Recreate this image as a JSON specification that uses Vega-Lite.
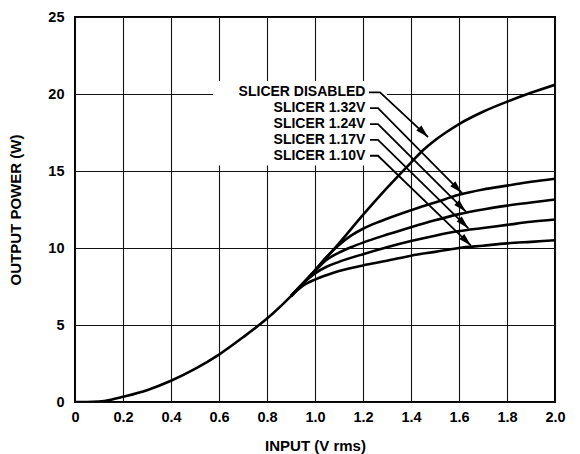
{
  "$schema": "https://vega.github.io/schema/vega-lite/v6.json",
  "width": 480,
  "height": 385,
  "autosize": "none",
  "padding": {"left": 75, "top": 17, "right": 25, "bottom": 52},
  "background": "white",
  "config": {
    "view": {"stroke": "#000", "strokeWidth": 2},
    "font": "Liberation Sans",
    "axis": {
      "labelFont": "Liberation Sans",
      "labelFontWeight": "bold",
      "labelFontSize": 14.5,
      "labelColor": "#000",
      "titleFont": "Liberation Sans",
      "titleFontWeight": "bold",
      "titleFontSize": 15,
      "titleColor": "#000",
      "domain": false,
      "ticks": false,
      "grid": true,
      "gridColor": "#111",
      "gridWidth": 1.1,
      "gridOpacity": 1
    }
  },
  "datasets": {
    "curves": [
      {"series": "SLICER DISABLED", "v": 0, "w": 0},
      {"series": "SLICER DISABLED", "v": 0.05, "w": 0},
      {"series": "SLICER DISABLED", "v": 0.1, "w": 0.03},
      {"series": "SLICER DISABLED", "v": 0.15, "w": 0.15},
      {"series": "SLICER DISABLED", "v": 0.2, "w": 0.34},
      {"series": "SLICER DISABLED", "v": 0.3, "w": 0.77},
      {"series": "SLICER DISABLED", "v": 0.4, "w": 1.38},
      {"series": "SLICER DISABLED", "v": 0.5, "w": 2.15},
      {"series": "SLICER DISABLED", "v": 0.6, "w": 3.08},
      {"series": "SLICER DISABLED", "v": 0.7, "w": 4.2},
      {"series": "SLICER DISABLED", "v": 0.8, "w": 5.42},
      {"series": "SLICER DISABLED", "v": 0.9, "w": 6.88},
      {"series": "SLICER DISABLED", "v": 1.0, "w": 8.55},
      {"series": "SLICER DISABLED", "v": 1.1, "w": 10.3},
      {"series": "SLICER DISABLED", "v": 1.2, "w": 12.15},
      {"series": "SLICER DISABLED", "v": 1.3, "w": 13.9},
      {"series": "SLICER DISABLED", "v": 1.4, "w": 15.55},
      {"series": "SLICER DISABLED", "v": 1.45, "w": 16.35},
      {"series": "SLICER DISABLED", "v": 1.5, "w": 17.0},
      {"series": "SLICER DISABLED", "v": 1.55, "w": 17.55},
      {"series": "SLICER DISABLED", "v": 1.6, "w": 18.05},
      {"series": "SLICER DISABLED", "v": 1.7, "w": 18.85},
      {"series": "SLICER DISABLED", "v": 1.8, "w": 19.5},
      {"series": "SLICER DISABLED", "v": 1.9, "w": 20.08},
      {"series": "SLICER DISABLED", "v": 2.0, "w": 20.6},

      {"series": "SLICER 1.32V", "v": 0.9, "w": 6.88},
      {"series": "SLICER 1.32V", "v": 1.0, "w": 8.55},
      {"series": "SLICER 1.32V", "v": 1.05, "w": 9.45},
      {"series": "SLICER 1.32V", "v": 1.1, "w": 10.2},
      {"series": "SLICER 1.32V", "v": 1.15, "w": 10.8},
      {"series": "SLICER 1.32V", "v": 1.2, "w": 11.25},
      {"series": "SLICER 1.32V", "v": 1.25, "w": 11.6},
      {"series": "SLICER 1.32V", "v": 1.3, "w": 11.9},
      {"series": "SLICER 1.32V", "v": 1.4, "w": 12.45},
      {"series": "SLICER 1.32V", "v": 1.5, "w": 12.95},
      {"series": "SLICER 1.32V", "v": 1.6, "w": 13.45},
      {"series": "SLICER 1.32V", "v": 1.7, "w": 13.8},
      {"series": "SLICER 1.32V", "v": 1.8, "w": 14.05},
      {"series": "SLICER 1.32V", "v": 1.9, "w": 14.3},
      {"series": "SLICER 1.32V", "v": 2.0, "w": 14.5},

      {"series": "SLICER 1.24V", "v": 0.9, "w": 6.88},
      {"series": "SLICER 1.24V", "v": 1.0, "w": 8.5},
      {"series": "SLICER 1.24V", "v": 1.05, "w": 9.25},
      {"series": "SLICER 1.24V", "v": 1.1, "w": 9.7},
      {"series": "SLICER 1.24V", "v": 1.15, "w": 10.05},
      {"series": "SLICER 1.24V", "v": 1.2, "w": 10.35},
      {"series": "SLICER 1.24V", "v": 1.3, "w": 10.87},
      {"series": "SLICER 1.24V", "v": 1.4, "w": 11.35},
      {"series": "SLICER 1.24V", "v": 1.5, "w": 11.8},
      {"series": "SLICER 1.24V", "v": 1.6, "w": 12.2},
      {"series": "SLICER 1.24V", "v": 1.7, "w": 12.5},
      {"series": "SLICER 1.24V", "v": 1.8, "w": 12.75},
      {"series": "SLICER 1.24V", "v": 1.9, "w": 12.95},
      {"series": "SLICER 1.24V", "v": 2.0, "w": 13.15},

      {"series": "SLICER 1.17V", "v": 0.9, "w": 6.88},
      {"series": "SLICER 1.17V", "v": 0.95, "w": 7.7},
      {"series": "SLICER 1.17V", "v": 1.0, "w": 8.35},
      {"series": "SLICER 1.17V", "v": 1.05, "w": 8.8},
      {"series": "SLICER 1.17V", "v": 1.1, "w": 9.1},
      {"series": "SLICER 1.17V", "v": 1.2, "w": 9.6},
      {"series": "SLICER 1.17V", "v": 1.3, "w": 10.05},
      {"series": "SLICER 1.17V", "v": 1.4, "w": 10.45},
      {"series": "SLICER 1.17V", "v": 1.5, "w": 10.8},
      {"series": "SLICER 1.17V", "v": 1.6, "w": 11.1},
      {"series": "SLICER 1.17V", "v": 1.7, "w": 11.3},
      {"series": "SLICER 1.17V", "v": 1.8, "w": 11.5},
      {"series": "SLICER 1.17V", "v": 1.9, "w": 11.7},
      {"series": "SLICER 1.17V", "v": 2.0, "w": 11.85},

      {"series": "SLICER 1.10V", "v": 0.9, "w": 6.88},
      {"series": "SLICER 1.10V", "v": 0.95, "w": 7.55},
      {"series": "SLICER 1.10V", "v": 1.0, "w": 7.95},
      {"series": "SLICER 1.10V", "v": 1.05, "w": 8.25},
      {"series": "SLICER 1.10V", "v": 1.1, "w": 8.5},
      {"series": "SLICER 1.10V", "v": 1.2, "w": 8.87},
      {"series": "SLICER 1.10V", "v": 1.3, "w": 9.17},
      {"series": "SLICER 1.10V", "v": 1.4, "w": 9.5},
      {"series": "SLICER 1.10V", "v": 1.5, "w": 9.75},
      {"series": "SLICER 1.10V", "v": 1.6, "w": 10.0},
      {"series": "SLICER 1.10V", "v": 1.7, "w": 10.15},
      {"series": "SLICER 1.10V", "v": 1.8, "w": 10.3},
      {"series": "SLICER 1.10V", "v": 1.9, "w": 10.4},
      {"series": "SLICER 1.10V", "v": 2.0, "w": 10.5}
    ],
    "leaders": [
      {"label": "SLICER DISABLED", "k": 0, "v": 1.225, "w": 20.11},
      {"label": "SLICER DISABLED", "k": 1, "v": 1.271, "w": 20.11},
      {"label": "SLICER DISABLED", "k": 2, "v": 1.471, "w": 17.2},
      {"label": "SLICER 1.32V", "k": 0, "v": 1.229, "w": 19.08},
      {"label": "SLICER 1.32V", "k": 1, "v": 1.2625, "w": 19.08},
      {"label": "SLICER 1.32V", "k": 2, "v": 1.6125, "w": 13.57},
      {"label": "SLICER 1.24V", "k": 0, "v": 1.229, "w": 18.05},
      {"label": "SLICER 1.24V", "k": 1, "v": 1.2625, "w": 18.05},
      {"label": "SLICER 1.24V", "k": 2, "v": 1.629, "w": 12.36},
      {"label": "SLICER 1.17V", "k": 0, "v": 1.229, "w": 17.02},
      {"label": "SLICER 1.17V", "k": 1, "v": 1.2625, "w": 17.02},
      {"label": "SLICER 1.17V", "k": 2, "v": 1.639, "w": 11.28},
      {"label": "SLICER 1.10V", "k": 0, "v": 1.229, "w": 15.99},
      {"label": "SLICER 1.10V", "k": 1, "v": 1.2625, "w": 15.99},
      {"label": "SLICER 1.10V", "k": 2, "v": 1.65, "w": 10.15}
    ],
    "labels": [
      {"label": "SLICER DISABLED", "v": 1.21, "w": 20.11},
      {"label": "SLICER 1.32V", "v": 1.21, "w": 19.08},
      {"label": "SLICER 1.24V", "v": 1.21, "w": 18.05},
      {"label": "SLICER 1.17V", "v": 1.21, "w": 17.02},
      {"label": "SLICER 1.10V", "v": 1.21, "w": 15.99}
    ],
    "box": [
      {"v1": 0.575, "v2": 1.30, "w1": 15.35, "w2": 20.85}
    ]
  },
  "encoding": {
    "x": {
      "field": "v", "type": "quantitative",
      "scale": {"domain": [0, 2], "nice": false, "zero": false},
      "axis": {
        "title": "INPUT (V rms)",
        "values": [0, 0.2, 0.4, 0.6, 0.8, 1.0, 1.2, 1.4, 1.6, 1.8, 2.0],
        "labelExpr": "datum.value == 0 ? '0' : format(datum.value, '.1f')",
        "labelPadding": 8,
        "labelFlush": false,
        "titlePadding": 15
      }
    },
    "y": {
      "field": "w", "type": "quantitative",
      "scale": {"domain": [0, 25], "nice": false},
      "axis": {
        "title": "OUTPUT POWER (W)",
        "values": [0, 5, 10, 15, 20, 25],
        "labelPadding": 11,
        "labelFlush": false,
        "titlePadding": 24
      }
    }
  },
  "layer": [
    {
      "data": {"name": "box"},
      "mark": {"type": "rect", "fill": "white", "stroke": null},
      "encoding": {
        "x": {"field": "v1", "type": "quantitative"},
        "x2": {"field": "v2"},
        "y": {"field": "w1", "type": "quantitative"},
        "y2": {"field": "w2"}
      }
    },
    {
      "data": {"name": "curves"},
      "mark": {"type": "line", "color": "#000", "strokeWidth": 2.6, "interpolate": "monotone", "clip": true},
      "encoding": {
        "detail": {"field": "series"},
        "order": {"field": "v", "type": "quantitative"}
      }
    },
    {
      "data": {"name": "leaders"},
      "mark": {"type": "line", "color": "#000", "strokeWidth": 1.8},
      "encoding": {
        "detail": {"field": "label"},
        "order": {"field": "k", "type": "quantitative"}
      }
    },
    {
      "data": {"name": "leaders"},
      "transform": [{"filter": "datum.k == 2"}],
      "mark": {"type": "point", "shape": "M0,0L-0.55,2L0.55,2Z", "filled": true, "color": "#000", "opacity": 1, "size": 169, "angle": 135, "strokeWidth": 0}
    },
    {
      "data": {"name": "labels"},
      "mark": {"type": "text", "align": "right", "baseline": "middle", "font": "Liberation Sans", "fontWeight": "bold", "fontSize": 14, "color": "#000"},
      "encoding": {
        "text": {"field": "label"}
      }
    }
  ]
}
